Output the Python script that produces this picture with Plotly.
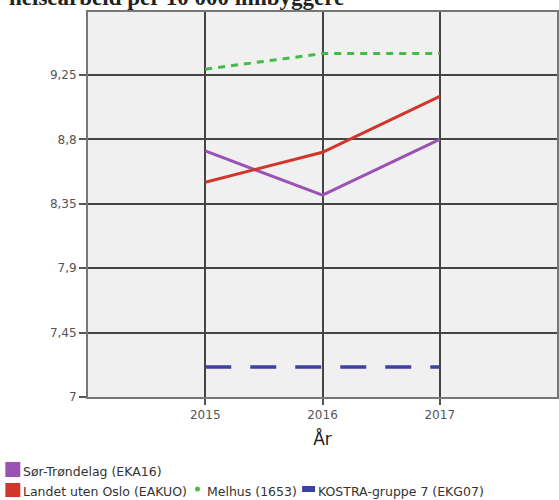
import plotly.graph_objects as go

# Data
years = [2015, 2016, 2017]
sorTrondelag = [8.72, 8.41, 8.80]
landetUtenOslo = [8.50, 8.71, 9.10]
melhus = [9.29, 9.40, 9.40]
kostra7 = [7.21, 7.21, 7.21]

seriesNames = ["Sør-Trøndelag (EKA16)", "Landet uten Oslo (EAKUO)", "Melhus (1653)", "KOSTRA-gruppe 7 (EKG07)"]
seriesColors = ["#9b52b3", "#d2362b", "#45bb45", "#3f3fa8"]

yTickVals = [7, 7.45, 7.9, 8.35, 8.8, 9.25]
yTickText = ["7", "7,45", "7,9", "8,35", "8,8", "9,25"]

titleText = "helsearbeid per 10 000 innbyggere"

# pixel geometry of the plot area (559x500 page)
left, right, top, bottom = 88, 559, 12, 397
W, H = 559, 500


def px(x):
    return (x - left) / (right - left)


def py(y):
    return (bottom - y) / (bottom - top)


fig = go.Figure()
fig.add_trace(go.Scatter(x=years, y=sorTrondelag, mode="lines", name=seriesNames[0],
                         line=dict(color=seriesColors[0], width=3)))
fig.add_trace(go.Scatter(x=years, y=landetUtenOslo, mode="lines", name=seriesNames[1],
                         line=dict(color=seriesColors[1], width=3)))
fig.add_trace(go.Scatter(x=years, y=melhus, mode="lines", name=seriesNames[2],
                         line=dict(color=seriesColors[2], width=3, dash="7px,6px")))
fig.add_trace(go.Scatter(x=years, y=kostra7, mode="lines", name=seriesNames[3],
                         line=dict(color=seriesColors[3], width=3.5, dash="26px,19px")))

# hand-made legend (two rows, like the original)
legendFont = dict(size=12.5, color="#333")
shapes = []
annotations = []
# row 1: Sør-Trøndelag
shapes.append(dict(type="rect", xref="paper", yref="paper", x0=px(5), x1=px(20), y0=py(477), y1=py(462),
                   fillcolor=seriesColors[0], line=dict(width=0)))
annotations.append(dict(xref="paper", yref="paper", x=px(21), y=py(471), xanchor="left", yanchor="middle",
                        text=seriesNames[0], showarrow=False, font=legendFont))
# row 2
shapes.append(dict(type="rect", xref="paper", yref="paper", x0=px(5), x1=px(20), y0=py(497), y1=py(483),
                   fillcolor=seriesColors[1], line=dict(width=0)))
annotations.append(dict(xref="paper", yref="paper", x=px(21), y=py(491), xanchor="left", yanchor="middle",
                        text=seriesNames[1], showarrow=False, font=legendFont))
shapes.append(dict(type="circle", xref="paper", yref="paper", x0=px(195.5), x1=px(200.5), y0=py(491.5), y1=py(486.5),
                   fillcolor=seriesColors[2], line=dict(width=0)))
annotations.append(dict(xref="paper", yref="paper", x=px(205), y=py(491), xanchor="left", yanchor="middle",
                        text=seriesNames[2], showarrow=False, font=legendFont))
shapes.append(dict(type="rect", xref="paper", yref="paper", x0=px(303), x1=px(316), y0=py(492), y1=py(486),
                   fillcolor=seriesColors[3], line=dict(width=0)))
annotations.append(dict(xref="paper", yref="paper", x=px(317), y=py(491), xanchor="left", yanchor="middle",
                        text=seriesNames[3], showarrow=False, font=legendFont))

# cut-off title at the very top
annotations.append(dict(xref="paper", yref="paper", x=px(7), y=py(12.5), xanchor="left", yanchor="bottom",
                        text="<b>" + titleText + "</b>", showarrow=False,
                        font=dict(family="Liberation Serif", size=23, color="#222")))

fig.update_layout(
    width=W, height=H,
    margin=dict(l=left, r=W - right, t=top, b=H - bottom),
    paper_bgcolor="white", plot_bgcolor="#f0f0f0",
    font=dict(family="DejaVu Sans", size=12, color="#555"),
    showlegend=False,
    shapes=shapes, annotations=annotations,
    xaxis=dict(range=[2014, 2018], tickvals=years, ticktext=[str(y) for y in years],
               showgrid=True, gridcolor="#444", gridwidth=1.5, zeroline=False,
               showline=True, linecolor="#777", linewidth=2, mirror=True,
               ticks="outside", ticklen=6, tickwidth=1.5, tickcolor="#555",
               tickfont=dict(size=12, color="#555"),
               title=dict(text="År", font=dict(size=17, color="#222"), standoff=12)),
    yaxis=dict(range=[7, 9.69], tickvals=yTickVals, ticktext=yTickText,
               showgrid=True, gridcolor="#444", gridwidth=1.5, zeroline=False,
               showline=True, linecolor="#777", linewidth=2, mirror=True,
               ticks="outside", ticklen=7, tickwidth=1.5, tickcolor="#555",
               tickfont=dict(size=12, color="#555")),
)

# drop the browser's default body margin so the figure fills the window exactly
fig.write_html("out.html", config={"displayModeBar": False},
               post_script="document.body.style.margin='0';")
